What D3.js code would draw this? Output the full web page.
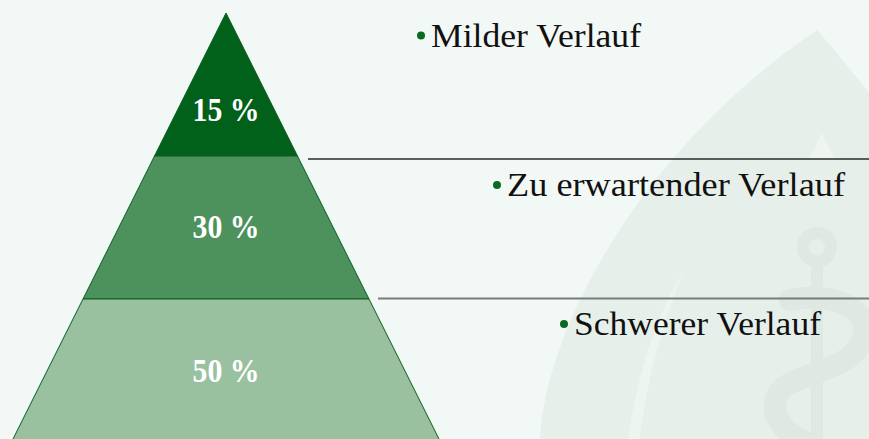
<!DOCTYPE html>
<html>
<head>
<meta charset="utf-8">
<script src="https://cdn.jsdelivr.net/npm/d3@7"></script>
<style>
  html, body { margin: 0; padding: 0; background: #f2f8f5; }
  svg { display: block; }
</style>
</head>
<body>
<svg id="chart" width="869" height="439"></svg>
<script>
// ---- data ----
const categories = ["Milder Verlauf", "Zu erwartender Verlauf", "Schwerer Verlauf"];
const values = [15, 30, 50];
const valueLabels = ["15 %", "30 %", "50 %"];
const bandColors = ["#01601a", "#4d925d", "#99c1a0"];

const W = 869, H = 439;
const svg = d3.select("#chart");

// background
svg.append("rect").attr("width", W).attr("height", H).attr("fill", "#f2f8f5");

// faint watermark (logo in background)
const wm = svg.append("g");
wm.append("path")
  .attr("d", "M 817 30 C 835 50, 855 75, 869 93 L 869 439 L 540 439 C 545 330, 640 150, 817 30 Z")
  .attr("fill", "#e7efea");
wm.append("path")
  .attr("d", "M 683 272 C 660 310, 640 360, 628 439 L 640 439 C 648 370, 665 320, 683 272 Z")
  .attr("fill", "#eef4f0");
wm.append("path")
  .attr("d", "M 822 133 L 835 160 L 809 160 Z")
  .attr("fill", "#eef4f0");
wm.append("circle").attr("cx", 817).attr("cy", 247).attr("r", 14)
  .attr("fill", "none").attr("stroke", "#dfe8e3").attr("stroke-width", 12);
wm.append("rect").attr("x", 811).attr("y", 262).attr("width", 12).attr("height", 177)
  .attr("fill", "#dfe8e3");
wm.append("path")
  .attr("d", "M 790 300 C 830 290, 880 310, 860 345 C 840 380, 770 370, 775 410 C 778 430, 800 439, 810 445")
  .attr("fill", "none").attr("stroke", "#dfe8e3").attr("stroke-width", 22).attr("stroke-linecap", "round");

// ---- scales ----
const apexY = 13, baseY = 442;
const cx = 226;
const y = d3.scaleLinear().domain([0, categories.length]).range([apexY, baseY]);
const halfW = d3.scaleLinear().domain([apexY, baseY]).range([0, 0.5 * (baseY - apexY)]);

// ---- pyramid bands ----
const bands = svg.append("g");
categories.forEach((c, i) => {
  const y0 = y(i), y1 = y(i + 1);
  const w0 = halfW(y0), w1 = halfW(y1);
  const pts = [[cx - w0, y0], [cx + w0, y0], [cx + w1, y1], [cx - w1, y1]];
  bands.append("path")
    .attr("d", d3.line()(pts) + "Z")
    .attr("fill", bandColors[i])
    .attr("stroke", "#0b5e1e")
    .attr("stroke-width", 1);
});

// percentage labels
const labelY = [121, 238, 382];
valueLabels.forEach((t, i) => {
  svg.append("text")
    .attr("x", cx).attr("y", labelY[i])
    .attr("text-anchor", "middle")
    .attr("font-family", "'Liberation Serif', 'DejaVu Serif', serif")
    .attr("font-weight", "bold")
    .attr("font-size", 33)
    .attr("fill", "#ffffff")
    .attr("textLength", 67)
    .attr("lengthAdjust", "spacingAndGlyphs")
    .text(t);
});

// separator lines
const seps = [
  { x: 308, y: 159, color: "#2a2a2a", w: 1.5 },
  { x: 378, y: 298.5, color: "#7a7a7a", w: 2 }
];
seps.forEach(s => {
  svg.append("line")
    .attr("x1", s.x).attr("x2", W)
    .attr("y1", s.y).attr("y2", s.y)
    .attr("stroke", s.color).attr("stroke-width", s.w);
});

// category labels with bullets
const catLayout = [
  { bx: 421, by: 35.5, tx: 431, ty: 47, len: 210 },
  { bx: 497, by: 185, tx: 507, ty: 196, len: 338 },
  { bx: 564, by: 324, tx: 574, ty: 335, len: 247 }
];
categories.forEach((c, i) => {
  const L = catLayout[i];
  svg.append("circle").attr("cx", L.bx).attr("cy", L.by).attr("r", 4).attr("fill", "#0b6a22");
  svg.append("text")
    .attr("x", L.tx).attr("y", L.ty)
    .attr("font-family", "'Liberation Serif', 'DejaVu Serif', serif")
    .attr("font-size", 34)
    .attr("fill", "#111111")
    .attr("textLength", L.len)
    .attr("lengthAdjust", "spacingAndGlyphs")
    .text(c);
});
</script>
</body>
</html>
